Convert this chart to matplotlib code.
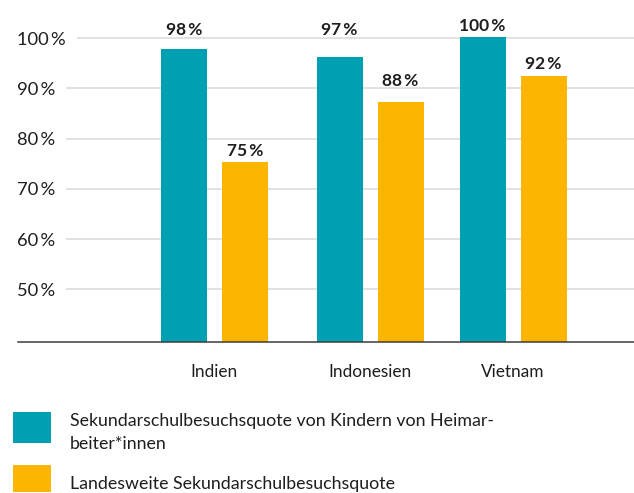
import matplotlib
matplotlib.use("Agg")
import matplotlib.pyplot as plt
from matplotlib.patches import Rectangle

# ---- data ----
categories = ["Indien", "Indonesien", "Vietnam"]
heimarbeit = [97.9, 96.3, 100.3]
landesweit = [75.4, 87.3, 92.5]
heimarbeit_labels = ["98\u2009%", "97\u2009%", "100\u2009%"]
landesweit_labels = ["75\u2009%", "88\u2009%", "92\u2009%"]
yticks = [50, 60, 70, 80, 90, 100]
ytick_labels = ["50\u2009%", "60\u2009%", "70\u2009%", "80\u2009%", "90\u2009%", "100\u2009%"]
legend_labels = ["Sekundarschulbesuchsquote von Kindern von Heimar-\nbeiter*innen",
                 "Landesweite Sekundarschulbesuchsquote"]

# ---- layout / style ----
W, H = 634, 493
TEAL = "#00A0B3"
ORANGE = "#FCB500"
TEXT = "#1e1e1e"
FONT = ["Lato", "DejaVu Sans"]
group_centers = [214.5, 370, 513]   # horizontal layout (pixel-like units)
bar_w = 46
bar_off = 30.5
lift_teal = [14, 22, 6]     # label gap above bar (pixels)
lift_orange = [6, 16, 7]

plt.rcParams["font.family"] = FONT

fig = plt.figure(figsize=(W / 100, H / 100), dpi=100)
ax = fig.add_axes([18 / W, 1 - 341.7 / H, 616 / W, (341.7 - 20) / H])
ax.set_xlim(18, 634)
ax.set_ylim(39.6, 103.6)
for s in ["top", "right", "left"]:
    ax.spines[s].set_visible(False)
ax.spines["bottom"].set_color("#3c3c3c")
ax.spines["bottom"].set_linewidth(1.1)
ax.set_yticks([])
ax.set_xticks(group_centers)
ax.set_xticklabels(categories, fontsize=12.4, color=TEXT)
ax.tick_params(axis="x", length=0, pad=16)

# y tick labels (inside, left aligned) and gridlines starting after them
renderer = fig.canvas.get_renderer()
inv = ax.transData.inverted()
for v, lab in zip(yticks, ytick_labels):
    t = ax.text(17, v, lab, ha="left", va="center_baseline", fontsize=13.2, color=TEXT)
    bb = t.get_window_extent(renderer)
    x_end = inv.transform((bb.x1, 0))[0]
    ax.hlines(v, x_end + 11, 634, color="#dcdcdc", lw=1.2, zorder=0)

ax.bar([c - bar_off for c in group_centers], heimarbeit, width=bar_w, color=TEAL, zorder=2)
ax.bar([c + bar_off for c in group_centers], landesweit, width=bar_w, color=ORANGE, zorder=2)

for c, v, lab, lf in zip(group_centers, heimarbeit, heimarbeit_labels, lift_teal):
    ax.annotate(lab, (c - bar_off, v), xytext=(0, lf), textcoords="offset pixels",
                ha="center", va="baseline", fontsize=12.5, fontweight="bold", color=TEXT)
for c, v, lab, lf in zip(group_centers, landesweit, landesweit_labels, lift_orange):
    ax.annotate(lab, (c + bar_off, v), xytext=(0, lf), textcoords="offset pixels",
                ha="center", va="baseline", fontsize=12.5, fontweight="bold", color=TEXT)

# legend drawn manually
def fx(px):
    return px / W

def fy(py):
    return 1 - py / H

for color, top, bot in [(TEAL, 412, 443), (ORANGE, 465, 492)]:
    fig.add_artist(Rectangle((fx(13), fy(bot)), fx(51) - fx(13), fy(top) - fy(bot),
                             transform=fig.transFigure, color=color, lw=0))
fig.text(fx(70), fy(449), legend_labels[0], ha="left", va="baseline", fontsize=12.8,
         color=TEXT, linespacing=1.55)
fig.text(fx(70), fy(489.5), legend_labels[1], ha="left", va="baseline", fontsize=12.8,
         color=TEXT)

fig.savefig("out.png", dpi=100)
